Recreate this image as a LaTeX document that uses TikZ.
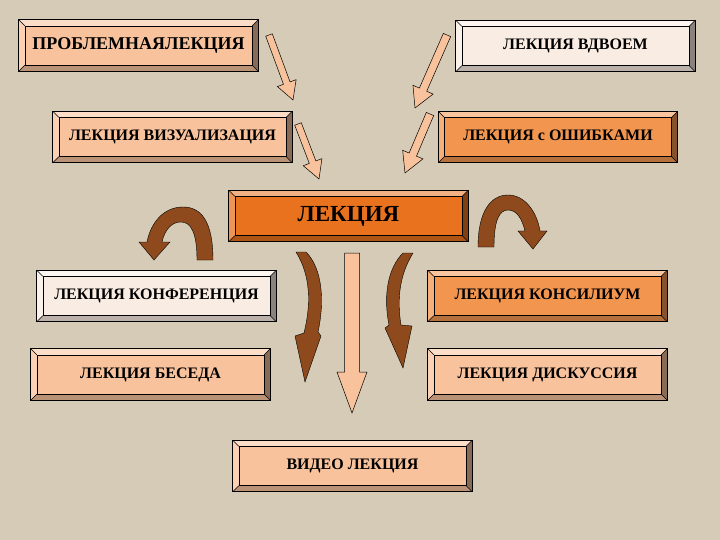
\documentclass[tikz,border=0pt]{standalone}
\usepackage{fontspec}
\setmainfont{Liberation Serif}
\usetikzlibrary{calc}

\definecolor{bgbeige}{HTML}{D6CBB6}
\definecolor{salmon}{HTML}{F8C29C}
\definecolor{pale}{HTML}{F9ECE3}
\definecolor{orng}{HTML}{F2954F}
\definecolor{deeporng}{HTML}{E8721E}
\definecolor{curlbrown}{HTML}{8E4A1C}

\tikzset{
  lbox/.style={draw, rectangle, fill=#1, minimum width=239pt, minimum height=51pt,
    inner sep=0pt, font=\fontsize{16}{18}\selectfont\bfseries},
  arrfill/.style={draw=black, fill=salmon, line width=0.5pt},
  curl/.style={draw=black, fill=curlbrown, line width=0.4pt}
}

% bevelled frame round a box
\newcommand\bevel[2]{%
  \fill[#2!55!white] (#1.north west) -- (#1.north east) -- ([xshift=-6pt,yshift=-6pt]#1.north east) -- ([xshift=6pt,yshift=-6pt]#1.north west) -- cycle;
  \fill[#2!75!white] (#1.north west) -- (#1.south west) -- ([xshift=6pt,yshift=6pt]#1.south west) -- ([xshift=6pt,yshift=-6pt]#1.north west) -- cycle;
  \fill[#2!55!black] (#1.north east) -- (#1.south east) -- ([xshift=-6pt,yshift=6pt]#1.south east) -- ([xshift=-6pt,yshift=-6pt]#1.north east) -- cycle;
  \fill[#2!75!black] (#1.south west) -- (#1.south east) -- ([xshift=-6pt,yshift=6pt]#1.south east) -- ([xshift=6pt,yshift=6pt]#1.south west) -- cycle;
  \draw[line width=0.5pt] ([xshift=6pt,yshift=-6pt]#1.north west) rectangle ([xshift=-6pt,yshift=6pt]#1.south east);
  \draw[line width=0.4pt] (#1.north west) -- ([xshift=6pt,yshift=-6pt]#1.north west)
    (#1.north east) -- ([xshift=-6pt,yshift=-6pt]#1.north east)
    (#1.south west) -- ([xshift=6pt,yshift=6pt]#1.south west)
    (#1.south east) -- ([xshift=-6pt,yshift=6pt]#1.south east);
  \draw[line width=0.7pt] (#1.north west) rectangle (#1.south east);
}

% straight block arrow: start, tip, half shaft, half head, head length
\newcommand\blockarr[5]{%
  \coordinate (hb) at ($(#2)!#5!(#1)$);
  \filldraw[arrfill] ($(#1)!#3!90:(#2)$) -- ($(hb)!#3!90:(#2)$) -- ($(hb)!#4!90:(#2)$) -- (#2)
    -- ($(hb)!#4!-90:(#2)$) -- ($(hb)!#3!-90:(#2)$) -- ($(#1)!#3!-90:(#2)$) -- cycle;
}

\begin{document}
\begin{tikzpicture}[x=1pt,y=-1pt]
\useasboundingbox (0,0) rectangle (720,540);
\fill[bgbeige] (0,0) rectangle (720,540);

\node[lbox=salmon, font=\fontsize{18}{20}\selectfont\bfseries] (problem) at (138.5,45.5) {ПРОБЛЕМНАЯЛЕКЦИЯ};
\node[lbox=salmon] (visual) at (172.5,137) {ЛЕКЦИЯ ВИЗУАЛИЗАЦИЯ};
\node[lbox=pale] (pair) at (575.5,46) {ЛЕКЦИЯ ВДВОЕМ};
\node[lbox=orng] (errors) at (558,137) {ЛЕКЦИЯ с ОШИБКАМИ};
\node[lbox=deeporng, font=\fontsize{23}{25}\selectfont\bfseries] (lecture) at (348.5,216) {ЛЕКЦИЯ};
\node[lbox=pale] (confer) at (156.5,296) {ЛЕКЦИЯ КОНФЕРЕНЦИЯ};
\node[lbox=salmon] (talk) at (150.5,374.5) {ЛЕКЦИЯ БЕСЕДА};
\node[lbox=orng] (council) at (547.5,296) {ЛЕКЦИЯ КОНСИЛИУМ};
\node[lbox=salmon] (debate) at (547.5,374.5) {ЛЕКЦИЯ ДИСКУССИЯ};
\node[lbox=salmon] (video) at (352.5,466) {ВИДЕО ЛЕКЦИЯ};

\bevel{problem}{salmon}
\bevel{visual}{salmon}
\bevel{pair}{pale}
\bevel{errors}{orng}
\bevel{lecture}{deeporng}
\bevel{confer}{pale}
\bevel{talk}{salmon}
\bevel{council}{orng}
\bevel{debate}{salmon}
\bevel{video}{salmon}

% straight arrows
\coordinate (a1s) at (269,35);  \coordinate (a1t) at (293,100);
\coordinate (a2s) at (298,124); \coordinate (a2t) at (319,179);
\coordinate (a3s) at (447,35);  \coordinate (a3t) at (415,108);
\coordinate (a4s) at (430,114); \coordinate (a4t) at (405,173);
\coordinate (dns) at (352,253); \coordinate (dnt) at (352,413);
\blockarr{a1s}{a1t}{3.5pt}{10pt}{18pt}
\blockarr{a2s}{a2t}{3.5pt}{10pt}{18pt}
\blockarr{a3s}{a3t}{4pt}{11pt}{20pt}
\blockarr{a4s}{a4t}{4pt}{11pt}{20pt}
\blockarr{dns}{dnt}{7.5pt}{15pt}{41pt}

% curved arrows
\filldraw[curl] (213,260) .. controls (213,221) and (201,207) .. (183,207)
  .. controls (164,207) and (151,222) .. (147,242) -- (139,242) -- (154,260) -- (170,242) -- (162,242)
  .. controls (165,229) and (172,222) .. (181,222) .. controls (191,222) and (197,233) .. (197,260) -- cycle;
\filldraw[curl] (478,247) .. controls (478,211) and (491,195) .. (508,195)
  .. controls (525,195) and (537,212) .. (540,231) -- (547,231) -- (533,249) -- (518,231) -- (525,231)
  .. controls (522,219) and (517,210) .. (508,210) .. controls (499,210) and (494,221) .. (494,247) -- cycle;
\filldraw[curl] (296,252) -- (306,252) .. controls (322,268) and (325,300) .. (318,332)
  -- (321,336) -- (305,382) -- (295,336) -- (304,333) .. controls (311,305) and (311,276) .. (296,252) -- cycle;
\filldraw[curl] (413,253) -- (403,253) .. controls (388,268) and (383,295) .. (389,325)
  -- (385,328) -- (403,368) -- (412,326) -- (401,325) .. controls (397,300) and (399,276) .. (413,253) -- cycle;
\end{tikzpicture}
\end{document}
